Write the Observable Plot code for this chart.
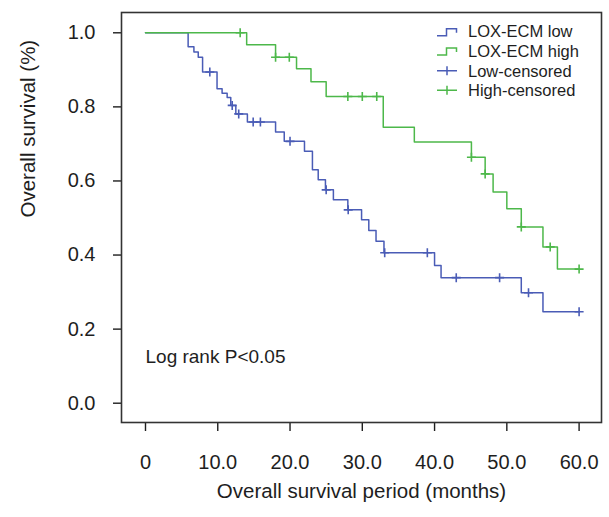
<!DOCTYPE html>
<html><head><meta charset="utf-8">
<script src="https://cdn.jsdelivr.net/npm/d3@7"></script>
<script src="https://cdn.jsdelivr.net/npm/@observablehq/plot@0.6"></script>
<style>body{margin:0;background:#fff;} svg{display:block}</style>
</head><body><div id="chart"></div>
<script>
// LOX-ECM low group: event times (months) and survival after each step
const lowTime = [0, 5.9, 6.7, 7.3, 7.9, 9.9, 10.6, 11.3, 11.8, 12.5, 14.1, 18.0, 19.2, 22.0, 23.1, 23.9, 24.9, 26.0, 28.0, 29.9, 30.9, 31.9, 33.0, 40.0, 40.9, 52.0, 55.0, 60.0];
const lowSurv = [1.0, 0.962, 0.948, 0.934, 0.894, 0.849, 0.837, 0.825, 0.804, 0.781, 0.759, 0.732, 0.707, 0.680, 0.630, 0.603, 0.576, 0.549, 0.522, 0.495, 0.466, 0.437, 0.406, 0.372, 0.339, 0.298, 0.247, 0.247];
const lowCensored = [8.9, 12.0, 12.9, 14.9, 15.9, 20.0, 25.0, 28.05, 33.1, 39.0, 43.0, 49.0, 53.0, 60.0];

// LOX-ECM high group
const highTime = [0, 14.0, 18.0, 20.9, 22.9, 25.0, 32.9, 37.2, 45.1, 47.0, 48.1, 50.0, 52.0, 55.0, 57.0, 60.0];
const highSurv = [1.0, 0.968, 0.934, 0.903, 0.868, 0.828, 0.745, 0.705, 0.664, 0.619, 0.570, 0.525, 0.476, 0.422, 0.362, 0.362];
const highCensored = [13.1, 18.0, 19.9, 28.0, 30.0, 32.0, 45.1, 47.0, 52.0, 56.0, 60.0];

const xTicks = [0, 10, 20, 30, 40, 50, 60];
const xTickLabels = ["0", "10.0", "20.0", "30.0", "40.0", "50.0", "60.0"];
const yTicks = [0, 0.2, 0.4, 0.6, 0.8, 1.0];
const yTickLabels = ["0.0", "0.2", "0.4", "0.6", "0.8", "1.0"];
const legendLabels = ["LOX-ECM low", "LOX-ECM high", "Low-censored", "High-censored"];
const xTitle = "Overall survival period (months)";
const yTitle = "Overall survival (%)";
const note = "Log rank P<0.05";

const blue = "#4a5cb6";
const green = "#4db84a";

const curve = (t, s) => t.map((x, i) => ({t: x, s: s[i]}));
const lowCurve = curve(lowTime, lowSurv);
const highCurve = curve(highTime, highSurv);
const survAt = (times, surv, x) => surv[d3.bisectRight(times, x) - 1];
const lowC = lowCensored.map(t => ({t, s: survAt(lowTime, lowSurv, t)}));
const highC = highCensored.map(t => ({t, s: survAt(highTime, highSurv, t)}));

const thinPlus = {
  draw(ctx, size) {
    const r = Math.sqrt(size / Math.PI);
    ctx.moveTo(-r, 0); ctx.lineTo(r, 0);
    ctx.moveTo(0, -r); ctx.lineTo(0, r);
  }
};

const chart = Plot.plot({
  width: 609,
  height: 517,
  marginLeft: 121,
  marginRight: 8,
  marginTop: 12,
  marginBottom: 95,
  style: {fontFamily: "'Liberation Sans', Arial, sans-serif", fontSize: "20px", color: "#1e1e1e", background: "#fff"},
  x: {domain: [-3.32, 63.1]},
  y: {domain: [-0.0521, 1.0548]},
  marks: [
    Plot.axisX({ticks: xTicks, tickFormat: (d, i) => xTickLabels[xTicks.indexOf(d)], tickSize: 9, tickPadding: 23, strokeWidth: 1.4, label: null, fontSize: 20}),
    Plot.axisY({ticks: yTicks, tickFormat: d => yTickLabels[yTicks.findIndex(v => Math.abs(v - d) < 1e-9)], tickSize: 8, tickPadding: 18, strokeWidth: 1.4, label: null, fontSize: 20}),
    Plot.frame({stroke: "#333", strokeWidth: 1.6}),
    Plot.line(lowCurve, {x: "t", y: "s", curve: "step-after", stroke: blue, strokeWidth: 1.5}),
    Plot.line(highCurve, {x: "t", y: "s", curve: "step-after", stroke: green, strokeWidth: 1.5}),
    Plot.dot(lowC, {x: "t", y: "s", symbol: thinPlus, r: 4.5, stroke: blue, strokeWidth: 1.6, fill: "none"}),
    Plot.dot(highC, {x: "t", y: "s", symbol: thinPlus, r: 4.5, stroke: green, strokeWidth: 1.6, fill: "none"}),
    Plot.text([note], {x: 0, y: 0.126, text: d => d, textAnchor: "start", fontSize: 19, fill: "#1e1e1e"}),
    Plot.text([xTitle], {frameAnchor: "bottom", dy: 75, text: d => d, fontSize: 20.5, fill: "#1e1e1e"}),
    Plot.text([yTitle], {frameAnchor: "left", dx: -93, rotate: -90, text: d => d, fontSize: 20.5, fill: "#1e1e1e"})
  ]
});

// legend (top-right inside the frame)
const svg = d3.select(chart);
const lg = svg.append("g")
  .attr("font-family", "'Liberation Sans', Arial, sans-serif")
  .attr("font-size", 16.5)
  .attr("text-anchor", "start")
  .attr("fill", "#1e1e1e");
const rows = [31.7, 50.9, 70.8, 90.2];
const colors = [blue, green, blue, green];
legendLabels.forEach((lab, i) => {
  const y = rows[i];
  const g = lg.append("g").attr("transform", `translate(0,${y})`);
  if (i < 2) {
    g.append("path").attr("d", "M437,4 H446.5 V-3 H456.5 V1").attr("fill", "none").attr("stroke", colors[i]).attr("stroke-width", 1.5);
  } else {
    g.append("path").attr("d", "M437,0 H457 M447,-4.5 V4.5").attr("fill", "none").attr("stroke", colors[i]).attr("stroke-width", 1.5);
  }
  g.append("text").attr("x", 468).attr("dy", "0.35em").attr("text-anchor", "start").text(lab);
});

document.getElementById("chart").appendChild(chart);
</script>
</body></html>
